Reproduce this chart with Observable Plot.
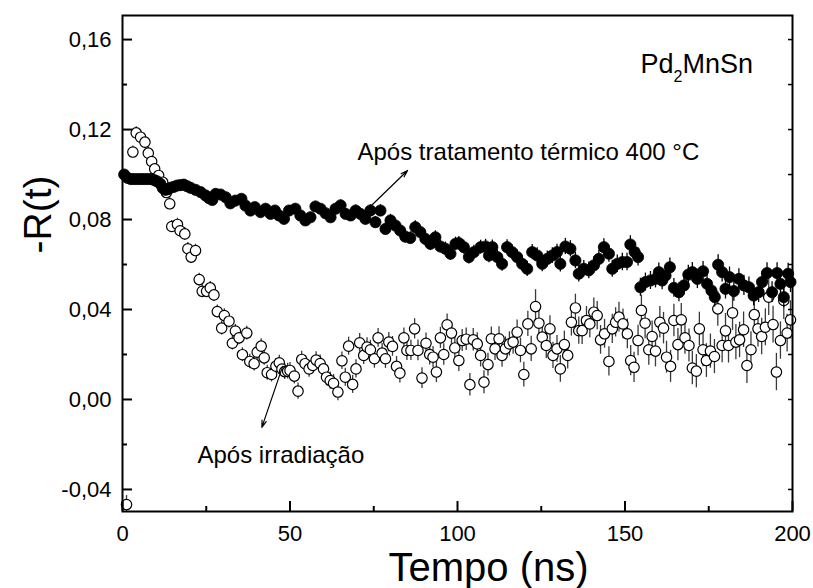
<!DOCTYPE html>
<html><head><meta charset="utf-8">
<script src="https://cdn.jsdelivr.net/npm/d3@7"></script>
<script src="https://cdn.jsdelivr.net/npm/@observablehq/plot@0.6"></script>
<style>html,body{margin:0;padding:0;background:#fff}</style>
</head><body><div id="chart"></div>
<script>
// Após irradiação (open circles): time (ns), -R(t), error
const openT = [1.2,3.1,4.1,5.4,6.7,7.7,8.7,9.6,10.8,12.0,
13.1,14.1,14.7,16.4,17.2,18.6,19.5,20.5,21.8,22.9,
23.8,25.1,26.2,27.3,28.3,29.6,30.4,31.8,32.8,33.7,
34.8,35.8,37.1,38.0,39.3,40.2,41.4,42.3,43.2,44.5,
45.8,46.8,47.6,48.4,49.3,50.0,51.3,52.4,53.5,54.5,
55.7,56.8,57.8,59.0,60.0,60.9,62.0,63.0,64.3,65.5,
66.5,67.5,68.7,69.7,70.8,72.0,73.0,74.0,75.2,76.3,
77.5,78.5,79.5,80.6,81.8,82.8,84.0,84.9,86.1,87.2,
88.2,89.4,90.6,91.7,92.7,93.7,94.9,95.9,96.9,98.2,
99.2,100.4,101.4,102.6,103.7,104.7,105.9,106.9,107.9,109.1,
110.1,111.2,112.4,113.3,114.3,115.5,116.6,117.8,118.8,119.8,
121.0,122.0,123.3,124.3,125.3,126.5,127.6,128.5,129.7,130.7,
131.9,132.9,134.0,135.2,136.2,137.2,138.5,139.5,140.7,141.7,
142.7,143.9,145.2,146.2,147.2,148.2,149.4,150.7,151.7,152.7,
153.9,154.9,156.0,157.1,158.1,159.1,160.4,161.5,162.4,163.6,
164.6,165.8,166.8,167.9,169.1,170.1,171.3,172.2,173.3,174.3,
175.5,176.7,177.7,179.0,180.0,180.9,182.1,183.1,184.2,185.4,
186.4,187.6,188.6,189.7,190.8,191.9,192.9,194.2,195.2,196.4,
197.4,198.4,199.4];
const openR = [-0.0467,0.110,0.1185,0.1166,0.1144,0.1095,0.1058,0.1025,0.0996,0.0966,
0.092,0.087,0.0769,0.0778,0.075,0.0736,0.067,0.0633,0.0662,0.0533,
0.0481,0.0481,0.0496,0.0465,0.0391,0.0317,0.0373,0.0348,0.025,0.0304,
0.0274,0.0199,0.0295,0.0169,0.0159,0.021,0.0237,0.0185,0.0119,0.0111,
0.0148,0.0163,0.0135,0.0124,0.0126,0.0129,0.0104,0.0037,0.0178,0.0159,
0.0136,0.0151,0.0175,0.016,0.0136,0.0099,0.0084,0.0072,0.0033,0.0172,
0.0099,0.0237,0.0067,0.0136,0.0252,0.0196,0.0233,0.0221,0.0181,0.0274,
0.0206,0.0181,0.0255,0.0236,0.0147,0.0117,0.0274,0.0218,0.0218,0.0314,
0.0218,0.0095,0.025,0.02,0.0188,0.0122,0.0274,0.02,0.0332,0.0295,
0.0229,0.0173,0.0262,0.0268,0.0066,0.0265,0.0247,0.0196,0.0077,0.0155,
0.027,0.0225,0.027,0.0196,0.0225,0.0247,0.0255,0.0299,0.0218,0.0111,
0.0336,0.0225,0.0413,0.0339,0.0277,0.024,0.0314,0.0196,0.0225,0.0136,
0.0244,0.0196,0.0343,0.0407,0.0306,0.0306,0.0351,0.0336,0.0388,0.0373,
0.0265,0.0292,0.0169,0.0314,0.0343,0.0366,0.0336,0.0292,0.0173,0.0143,
0.0262,0.0396,0.0339,0.0221,0.028,0.0215,0.0343,0.0317,0.0188,0.0147,
0.0351,0.0244,0.0354,0.0274,0.024,0.014,0.0126,0.0314,0.0221,0.0173,
0.0215,0.0191,0.0403,0.024,0.0305,0.024,0.0385,0.0255,0.0265,0.031,
0.0151,0.0221,0.0377,0.0314,0.028,0.0321,0.0455,0.0333,0.0122,0.0262,
0.044,0.0295,0.0354];
const openErr = [0.004,0.0027,0.0027,0.0027,0.0027,0.0027,0.0027,0.0027,0.0027,0.0027,
0.0027,0.0027,0.0027,0.0028,0.0028,0.0028,0.0028,0.0028,0.0028,0.0028,
0.0029,0.0029,0.0029,0.0029,0.0029,0.003,0.003,0.003,0.003,0.003,
0.0031,0.0031,0.0031,0.0032,0.0032,0.0032,0.0033,0.0033,0.0033,0.0033,
0.0034,0.0034,0.0034,0.0035,0.0035,0.0035,0.0035,0.0036,0.0036,0.0036,
0.0037,0.0037,0.0037,0.0038,0.0038,0.0038,0.0038,0.0039,0.0039,0.0039,
0.004,0.004,0.004,0.0041,0.0041,0.0041,0.0041,0.0042,0.0042,0.0042,
0.0043,0.0043,0.0043,0.0044,0.0044,0.0044,0.0044,0.0045,0.0045,0.0045,
0.0046,0.0046,0.0046,0.0047,0.0047,0.0047,0.0047,0.0048,0.0048,0.0048,
0.0049,0.0049,0.0049,0.005,0.005,0.005,0.005,0.0051,0.0051,0.0051,
0.0052,0.0052,0.0053,0.0053,0.0053,0.0054,0.0054,0.0054,0.0055,0.0055,
0.0056,0.0056,0.0075,0.0057,0.0057,0.0058,0.0058,0.0058,0.0059,0.0059,
0.006,0.006,0.0061,0.0061,0.0061,0.0062,0.0062,0.0062,0.0063,0.0063,
0.0064,0.0064,0.0065,0.0065,0.0065,0.0066,0.0066,0.0066,0.0067,0.0067,
0.0068,0.0068,0.0069,0.0069,0.0069,0.007,0.007,0.007,0.0071,0.0071,
0.0072,0.0072,0.0073,0.0073,0.0073,0.0074,0.0074,0.0074,0.0075,0.0075,
0.0076,0.0076,0.0077,0.0077,0.0077,0.0078,0.0078,0.0078,0.0079,0.0079,
0.008,0.008,0.0081,0.0081,0.0081,0.0082,0.0082,0.0082,0.0083,0.0083,
0.0084,0.0084,0.0085];

// Após tratamento térmico 400 °C (filled circles)
const annealT = [0.5,1.5,2.5,3.5,4.5,5.5,6.5,7.5,8.5,9.5,
10.3,11.3,12.0,12.8,13.6,14.3,15.3,16.3,17.3,18.3,
19.3,20.3,21.8,23.3,24.8,25.8,26.8,27.8,29.3,30.8,
32.2,33.7,35.5,36.7,38.2,39.5,41.2,42.7,44.2,45.5,
46.7,48.2,49.7,51.6,53.1,54.6,56.1,57.6,59.1,60.6,
62.1,63.6,65.1,66.6,68.1,69.6,71.0,72.5,74.0,75.5,
77.0,78.5,80.0,81.5,82.9,84.4,85.9,87.4,88.9,90.4,
91.9,93.4,94.9,96.4,97.9,99.4,100.4,101.9,103.4,104.9,
106.9,108.4,109.4,110.4,111.9,113.3,114.8,116.3,117.8,119.3,
120.8,122.3,123.8,125.3,126.8,128.3,129.7,130.7,132.2,133.7,
135.2,136.2,137.7,139.2,140.7,142.2,143.7,145.2,146.2,147.7,
149.2,150.6,151.6,152.9,153.9,154.6,156.1,157.6,159.1,160.1,
161.1,162.1,163.4,164.6,166.1,167.6,168.9,170.1,171.6,173.3,
174.5,175.8,176.8,177.8,179.0,180.0,181.2,182.5,184.0,185.5,
187.0,188.4,189.9,190.9,192.4,193.9,195.4,196.4,197.4,198.7,
199.4];
const annealR = [0.100,0.0985,0.098,0.098,0.098,0.098,0.098,0.098,0.098,0.0975,
0.097,0.0959,0.094,0.0932,0.0935,0.0941,0.0945,0.0951,0.0953,0.0955,
0.0948,0.0941,0.0932,0.0922,0.0907,0.0895,0.0887,0.0914,0.0911,0.0899,
0.0872,0.0884,0.0892,0.0862,0.084,0.0855,0.0833,0.0848,0.0825,0.084,
0.0818,0.0803,0.084,0.0848,0.0818,0.0796,0.081,0.0858,0.0848,0.0828,
0.081,0.0848,0.0863,0.0825,0.0818,0.084,0.0825,0.0803,0.084,0.0788,
0.084,0.0758,0.0796,0.0773,0.0751,0.0724,0.0718,0.0766,0.0744,0.0714,
0.0692,0.0721,0.068,0.067,0.0648,0.0692,0.0695,0.0677,0.0633,0.0655,
0.0677,0.068,0.064,0.0677,0.0633,0.0603,0.0677,0.0655,0.0633,0.0603,
0.0581,0.0655,0.064,0.0603,0.0625,0.064,0.0655,0.0603,0.068,0.067,
0.0618,0.0559,0.0581,0.0574,0.0596,0.0625,0.0677,0.0648,0.0581,0.0603,
0.0611,0.0611,0.0689,0.0655,0.0633,0.0499,0.0522,0.0529,0.0536,0.0566,
0.0529,0.0551,0.0588,0.0496,0.0477,0.0507,0.0555,0.0566,0.0536,0.057,
0.0514,0.0484,0.0455,0.0599,0.0566,0.0492,0.0544,0.0482,0.0536,0.0507,
0.0499,0.0462,0.0477,0.0522,0.0562,0.0477,0.0562,0.0514,0.0455,0.0559,
0.0522];
const annealErr = [0.0015,0.0015,0.0015,0.0015,0.0015,0.0015,0.0015,0.0015,0.0015,0.0015,
0.0015,0.0015,0.0015,0.0015,0.0015,0.0015,0.0016,0.0016,0.0016,0.0016,
0.0016,0.0017,0.0017,0.0017,0.0017,0.0018,0.0018,0.0018,0.0018,0.0019,
0.0019,0.0019,0.0019,0.002,0.002,0.002,0.002,0.0021,0.0021,0.0021,
0.0021,0.0022,0.0022,0.0022,0.0022,0.0023,0.0023,0.0023,0.0023,0.0024,
0.0024,0.0024,0.0024,0.0025,0.0025,0.0025,0.0025,0.0026,0.0026,0.0026,
0.0026,0.0027,0.0027,0.0027,0.0027,0.0028,0.0028,0.0028,0.0028,0.0029,
0.0029,0.0029,0.0029,0.003,0.003,0.003,0.003,0.0031,0.0031,0.0031,
0.0031,0.0032,0.0032,0.0032,0.0032,0.0033,0.0033,0.0033,0.0033,0.0034,
0.0034,0.0034,0.0034,0.0035,0.0035,0.0035,0.0035,0.0036,0.0036,0.0036,
0.0036,0.0037,0.0037,0.0037,0.0037,0.0038,0.0038,0.0038,0.0038,0.0039,
0.0039,0.0039,0.0039,0.004,0.004,0.004,0.004,0.004,0.004,0.0041,
0.0041,0.0041,0.0041,0.0042,0.0042,0.0042,0.0042,0.0043,0.0043,0.0043,
0.0043,0.0044,0.0044,0.0044,0.0044,0.0045,0.0045,0.0045,0.0045,0.0045,
0.0045,0.0046,0.0046,0.0046,0.0046,0.0046,0.0046,0.0047,0.0047,0.0047,
0.0047];

// Axes
const xMajor = [0, 50, 100, 150, 200];
const xMinor = [25, 75, 125, 175];
const yMajor = [-0.04, 0, 0.04, 0.08, 0.12, 0.16];
const yMinor = [-0.02, 0.02, 0.06, 0.10, 0.14];
const xDomain = [0, 200];
const yDomain = [-0.0498, 0.1707];

// Labels / annotations
const sampleLabel = "Pd2MnSn";
const annealLabel = "Após tratamento térmico 400 °C";
const irradLabel = "Após irradiação";
const xTitle = "Tempo (ns)";
const yTitle = "-R(t)";
const arrows = [
  {x1: 74.0, y1: 0.0858, x2: 85.1, y2: 0.1018},
  {x1: 47.8, y1: 0.0147, x2: 41.6, y2: -0.0124}
];

const openData = openT.map((t, i) => ({t, r: openR[i], e: openErr[i]}));
const annealData = annealT.map((t, i) => ({t, r: annealR[i], e: annealErr[i]}));

const W = 813, H = 588, mL = 122, mR = 21, mT = 15, mB = 77;
const fw = W - mL - mR, fh = H - mT - mB;
const font = "'Liberation Sans', Arial, Helvetica, sans-serif";
const fmtY = d => d.toFixed(2).replace(".", ",");

const chart = Plot.plot({
  width: W, height: H,
  marginLeft: mL, marginRight: mR, marginTop: mT, marginBottom: mB,
  style: {fontFamily: font, fontSize: "22px", background: "white", color: "black"},
  x: {domain: xDomain},
  y: {domain: yDomain},
  marks: [
    Plot.ruleX(openData, {x: "t", y1: d => d.r - d.e, y2: d => d.r + d.e, stroke: "#3a3a3a", strokeWidth: 1.3, clip: true}),
    Plot.dot(openData, {x: "t", y: "r", r: 5.2, fill: "white", stroke: "black", strokeWidth: 1.2}),
    Plot.ruleX(annealData, {x: "t", y1: d => d.r - d.e, y2: d => d.r + d.e, stroke: "black", strokeWidth: 1.3}),
    Plot.dot(annealData, {x: "t", y: "r", r: 5.6, fill: "black", stroke: "black", strokeWidth: 0.8}),
    Plot.frame({stroke: "black", strokeWidth: 2}),
    Plot.ruleY(yMajor, {y: d => d, insetRight: fw - 10, stroke: "black", strokeWidth: 2}),
    Plot.ruleY(yMinor, {y: d => d, insetRight: fw - 5, stroke: "black", strokeWidth: 2}),
    Plot.ruleY(yMajor.concat(yMinor), {y: d => d, insetLeft: fw - 4, stroke: "black", strokeWidth: 1.5}),
    Plot.ruleX(xMajor, {x: d => d, insetTop: fh - 10, stroke: "black", strokeWidth: 2}),
    Plot.ruleX(xMinor, {x: d => d, insetTop: fh - 5, stroke: "black", strokeWidth: 2}),
    Plot.axisY(yMajor, {tickSize: 0, tickPadding: 11, tickFormat: fmtY, label: null, fontSize: 22, fill: "black"}),
    Plot.axisX(xMajor, {tickSize: 0, tickPadding: 14, tickFormat: d => String(d), label: null, fontSize: 22, fill: "black"}),
    Plot.text([xTitle], {text: d => d, frameAnchor: "bottom", dx: 31, dy: 69, lineAnchor: "bottom", fontSize: 40, fill: "black"}),
    Plot.text([yTitle], {text: d => d, frameAnchor: "left", dx: -72, dy: -10, rotate: -90, lineAnchor: "bottom", fontSize: 39, fill: "black"}),
    Plot.text([sampleLabel], {text: d => d, frameAnchor: "top-left", dx: 518, dy: 57, textAnchor: "start", lineAnchor: "bottom", fontSize: 27, fill: "black"}),
    Plot.text([annealLabel], {text: d => d, frameAnchor: "top-left", dx: 235, dy: 144, textAnchor: "start", lineAnchor: "bottom", fontSize: 24, fill: "black"}),
    Plot.text([irradLabel], {text: d => d, frameAnchor: "top-left", dx: 75, dy: 447, textAnchor: "start", lineAnchor: "bottom", fontSize: 24, fill: "black"}),
    Plot.arrow(arrows, {x1: "x1", y1: "y1", x2: "x2", y2: "y2", stroke: "black", strokeWidth: 1.2, headLength: 9, headAngle: 35})
  ]
});

// subscript for Pd2MnSn
chart.querySelectorAll("text").forEach(t => {
  if (t.textContent === sampleLabel) {
    const ns = "http://www.w3.org/2000/svg";
    while (t.firstChild) t.removeChild(t.firstChild);
    const a = document.createElementNS(ns, "tspan"); a.textContent = "Pd";
    const b = document.createElementNS(ns, "tspan"); b.textContent = "2";
    b.setAttribute("font-size", "16"); b.setAttribute("dy", "9");
    const c = document.createElementNS(ns, "tspan"); c.textContent = "MnSn";
    c.setAttribute("dy", "-9");
    t.appendChild(a); t.appendChild(b); t.appendChild(c);
  }
});

document.getElementById("chart").appendChild(chart);
</script>
</body></html>
